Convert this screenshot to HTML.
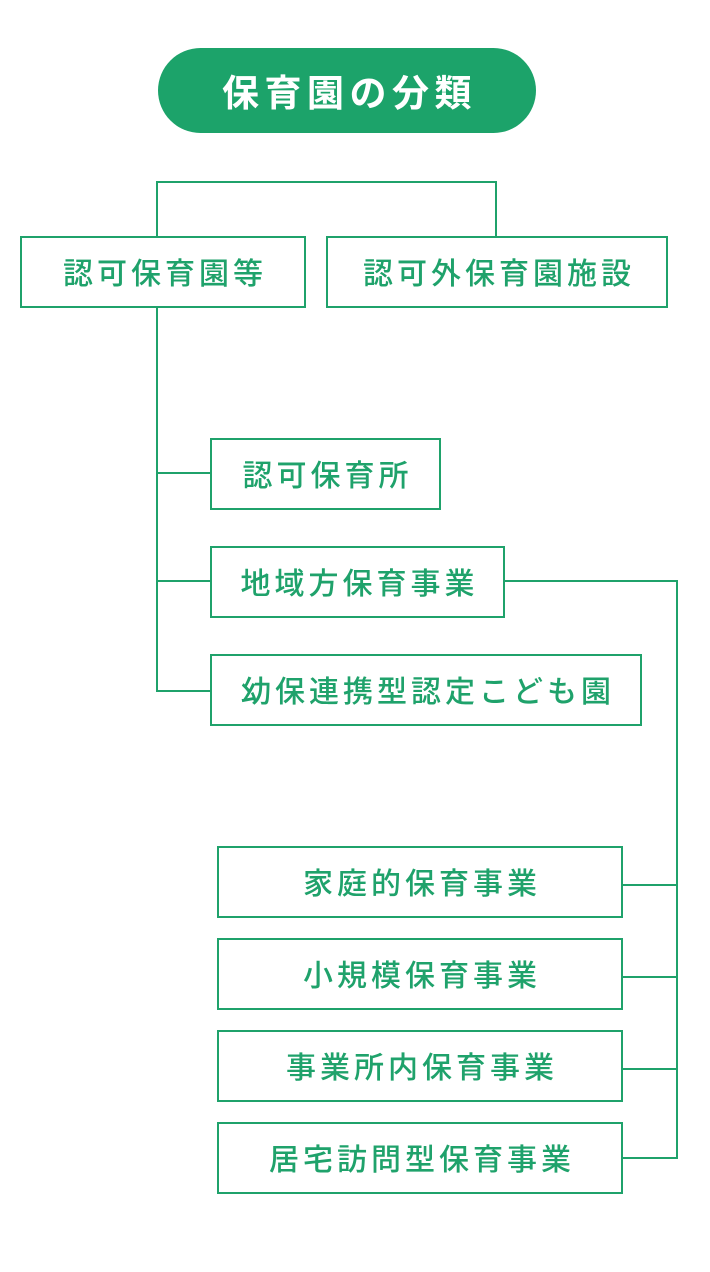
<!DOCTYPE html>
<html><head><meta charset="utf-8"><style>
body{margin:0;width:710px;height:1272px;background:#fff;position:relative;overflow:hidden;font-family:"Liberation Sans","Noto Sans CJK JP",sans-serif;}
.b{position:absolute;box-sizing:border-box;border:2px solid #1fa26b;color:#1fa26b;font-size:30px;letter-spacing:4px;display:flex;align-items:center;justify-content:center;padding-left:4px;font-weight:500;padding-bottom:2px;}
.l{position:absolute;background:#1fa26b;}
.t{position:absolute;left:158px;top:48px;width:378px;height:85px;border-radius:43px;background:#1ca36a;color:#fff;font-size:37px;font-weight:bold;letter-spacing:5.5px;display:flex;align-items:center;justify-content:center;padding-left:5px;box-sizing:border-box;padding-bottom:2px;}
</style></head><body>
<div class="t">保育園の分類</div>
<div class="l" style="left:156px;top:181px;width:341px;height:2px"></div>
<div class="l" style="left:156px;top:181px;width:2px;height:56px"></div>
<div class="l" style="left:495px;top:181px;width:2px;height:56px"></div>
<div class="b" style="left:20px;top:236px;width:286px;height:72px">認可保育園等</div>
<div class="b" style="left:326px;top:236px;width:342px;height:72px">認可外保育園施設</div>
<div class="l" style="left:156px;top:307px;width:2px;height:385px"></div>
<div class="l" style="left:156px;top:472px;width:55px;height:2px"></div>
<div class="l" style="left:156px;top:580px;width:55px;height:2px"></div>
<div class="l" style="left:156px;top:690px;width:55px;height:2px"></div>
<div class="b" style="left:210px;top:438px;width:231px;height:72px">認可保育所</div>
<div class="b" style="left:210px;top:546px;width:295px;height:72px">地域方保育事業</div>
<div class="b" style="left:210px;top:654px;width:432px;height:72px">幼保連携型認定こども園</div>
<div class="l" style="left:504px;top:580px;width:174px;height:2px"></div>
<div class="l" style="left:676px;top:580px;width:2px;height:579px"></div>
<div class="l" style="left:621px;top:884px;width:56px;height:2px"></div>
<div class="l" style="left:621px;top:976px;width:56px;height:2px"></div>
<div class="l" style="left:621px;top:1068px;width:56px;height:2px"></div>
<div class="l" style="left:621px;top:1157px;width:56px;height:2px"></div>
<div class="b" style="left:217px;top:846px;width:406px;height:72px">家庭的保育事業</div>
<div class="b" style="left:217px;top:938px;width:406px;height:72px">小規模保育事業</div>
<div class="b" style="left:217px;top:1030px;width:406px;height:72px">事業所内保育事業</div>
<div class="b" style="left:217px;top:1122px;width:406px;height:72px">居宅訪問型保育事業</div>
</body></html>
